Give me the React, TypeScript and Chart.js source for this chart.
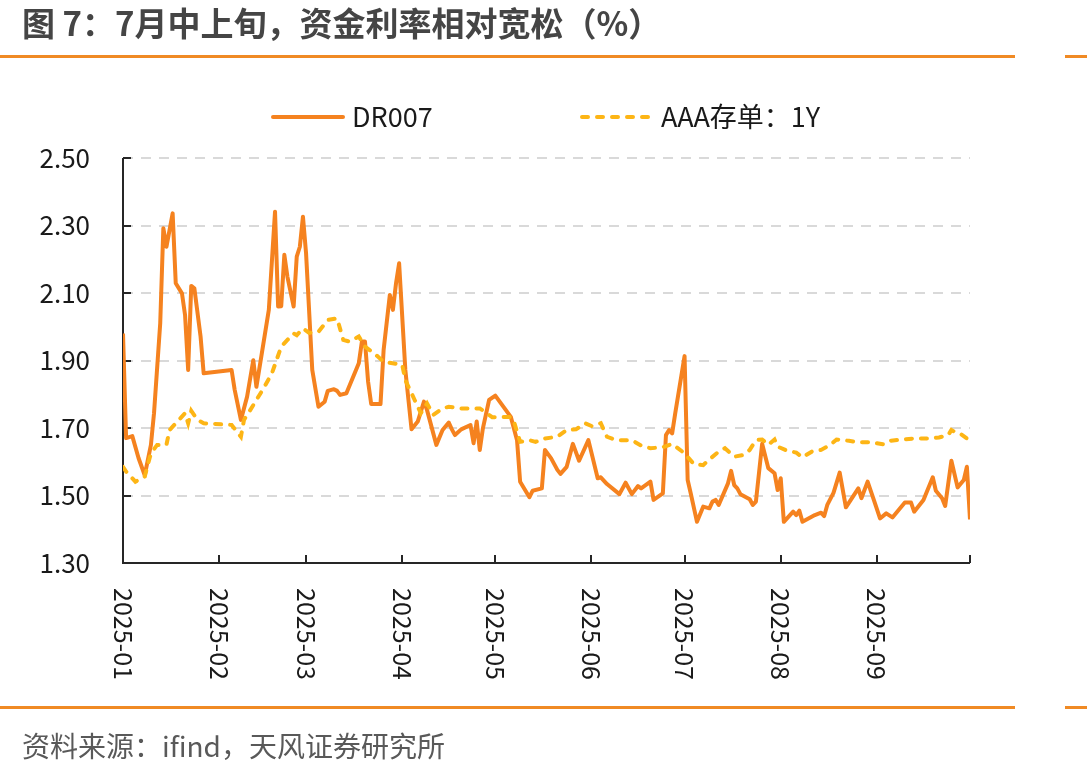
import React, { useEffect, useRef } from "react";
import { Chart, registerables } from "chart.js";

Chart.register(...registerables);

const TITLE = "图 7：7月中上旬，资金利率相对宽松（%）";
const SOURCE = "资料来源：ifind，天风证券研究所";
const SERIES_NAMES = ["DR007", "AAA存单：1Y"];

// x = days since 2025-01-01
const MONTH_LABELS = ["2025-01", "2025-02", "2025-03", "2025-04", "2025-05", "2025-06", "2025-07", "2025-08", "2025-09"];
const MONTH_START_DAYS = [0, 31, 59, 90, 120, 151, 181, 212, 243, 273];
const Y_TICKS = [1.3, 1.5, 1.7, 1.9, 2.1, 2.3, 2.5];

const drDays = [
  0, 1, 3, 5, 7, 9, 10, 12, 13, 14, 16, 17, 19, 20, 21, 22, 23, 25, 26, 35,
  36, 38, 40, 42, 43, 45, 47, 49, 50, 51, 52, 53, 55, 56, 57, 58, 59, 61, 63, 65,
  66, 68, 69, 70, 72, 76, 77, 78, 79, 80, 83, 84, 86, 87, 88, 89, 91, 93, 95, 97,
  98, 101, 103, 105, 106, 107, 109, 112, 113, 114, 115, 116, 118, 120, 125, 127, 128, 131, 132, 135,
  136, 138, 140, 141, 143, 145, 147, 150, 153, 154, 156, 160, 162, 164, 166, 167, 170, 171, 174, 175,
  176, 177, 178, 181, 182, 183, 185, 187, 189, 190, 191, 192, 195, 196, 197, 198, 199, 202, 203, 204,
  206, 208, 210, 211, 212, 213, 216, 217, 218, 219, 223, 225, 226, 227, 229, 231, 233, 237, 238, 240,
  242, 244, 246, 248, 250, 252, 254, 255, 258, 261, 262, 264, 265, 267, 269, 271, 272, 273,
];
const drValues = [
  1.98, 1.67, 1.676, 1.611, 1.56, 1.65, 1.744, 2.011, 2.292, 2.237, 2.336, 2.129, 2.099, 2.035, 1.872, 2.121, 2.114, 1.971, 1.862, 1.872,
  1.813, 1.724, 1.793, 1.901, 1.822, 1.936, 2.05, 2.341, 2.06, 2.061, 2.213, 2.148, 2.06, 2.208, 2.237, 2.326, 2.218, 1.872, 1.763, 1.778,
  1.81, 1.815, 1.81, 1.798, 1.803, 1.892, 1.956, 1.956, 1.837, 1.771, 1.771, 1.931, 2.094, 2.05, 2.129, 2.188, 1.872, 1.696, 1.719, 1.778,
  1.753, 1.65, 1.694, 1.716, 1.696, 1.679, 1.696, 1.709, 1.655, 1.719, 1.635, 1.699, 1.783, 1.796, 1.733, 1.664, 1.541, 1.495, 1.514, 1.521,
  1.635, 1.61, 1.576, 1.564, 1.585, 1.653, 1.603, 1.664, 1.551, 1.554, 1.534, 1.504, 1.538, 1.504, 1.528, 1.521, 1.541, 1.487, 1.506, 1.679,
  1.694, 1.684, 1.744, 1.913, 1.546, 1.506, 1.422, 1.467, 1.462, 1.482, 1.487, 1.472, 1.536, 1.573, 1.531, 1.521, 1.504, 1.489, 1.472, 1.482,
  1.653, 1.581, 1.566, 1.516, 1.551, 1.422, 1.452, 1.442, 1.455, 1.422, 1.442, 1.449, 1.439, 1.472, 1.508, 1.568, 1.465, 1.521, 1.492, 1.541,
  1.487, 1.432, 1.447, 1.435, 1.457, 1.479, 1.479, 1.452, 1.487, 1.554, 1.514, 1.492, 1.469, 1.603, 1.524, 1.546, 1.585, 1.429,
];

const aaaDays = [
  0, 1, 4, 7, 9, 11, 14, 15, 18, 20, 21, 22, 24, 26, 35, 38, 39, 41, 45, 48,
  51, 53, 55, 56, 58, 60, 63, 66, 69, 71, 73, 76, 78, 81, 84, 90, 91, 94, 96, 98,
  100, 103, 105, 109, 115, 119, 125, 126, 128, 131, 133, 136, 140, 143, 146, 149, 151, 154, 156, 159,
  164, 167, 170, 174, 177, 181, 184, 187, 189, 192, 194, 197, 200, 202, 204, 206, 208, 210, 211, 214,
  217, 219, 222, 225, 228, 230, 234, 237, 241, 245, 247, 251, 255, 260, 263, 266, 267, 269, 270, 273,
];
const aaaValues = [
  1.585, 1.571, 1.541, 1.556, 1.625, 1.65, 1.65, 1.694, 1.724, 1.744, 1.714, 1.751, 1.724, 1.714, 1.709, 1.674, 1.724, 1.753, 1.813, 1.862,
  1.941, 1.961, 1.98, 1.975, 1.995, 1.982, 1.985, 2.02, 2.025, 1.961, 1.956, 1.971, 1.941, 1.921, 1.896, 1.887, 1.842, 1.783, 1.744, 1.773,
  1.739, 1.758, 1.763, 1.758, 1.758, 1.732, 1.733, 1.719, 1.659, 1.664, 1.659, 1.669, 1.674, 1.694, 1.696, 1.714, 1.706, 1.714, 1.674, 1.664,
  1.664, 1.648, 1.64, 1.643, 1.653, 1.625, 1.593, 1.59, 1.607, 1.63, 1.64, 1.615, 1.62, 1.635, 1.664, 1.666, 1.65, 1.666, 1.645, 1.633,
  1.627, 1.613, 1.63, 1.635, 1.65, 1.666, 1.662, 1.658, 1.658, 1.652, 1.662, 1.666, 1.669, 1.669, 1.672, 1.679, 1.694, 1.684, 1.682, 1.662,
];

const DR_COLOR = "#F5821F";
const AAA_COLOR = "#FDB515";
const RULE_COLOR = "#F08A24";
const TEXT_FONT = '"Noto Sans CJK SC", "Noto Sans", sans-serif';

const chromePlugin = {
  id: "chrome",
  beforeDatasetsDraw(chart: any) {
    const { ctx, chartArea: a, scales } = chart;
    const xs = scales.x;
    const ys = scales.y;
    ctx.save();
    ctx.strokeStyle = "#262626";
    ctx.lineWidth = 2;
    ctx.beginPath();
    ctx.moveTo(a.left, a.top);
    ctx.lineTo(a.left, a.bottom);
    ctx.lineTo(a.right, a.bottom);
    ctx.stroke();
    ctx.beginPath();
    for (const v of Y_TICKS) {
      const y = Math.round(ys.getPixelForValue(v));
      ctx.moveTo(a.left, y);
      ctx.lineTo(a.left + 8, y);
    }
    for (const d of MONTH_START_DAYS) {
      const x = Math.round(xs.getPixelForValue(d));
      ctx.moveTo(x, a.bottom);
      ctx.lineTo(x, a.bottom - 8);
    }
    ctx.stroke();
    ctx.restore();
  },
  afterDraw(chart: any) {
    const { ctx, chartArea: a, scales } = chart;
    const xs = scales.x;
    ctx.save();
    // rotated month labels (reading top to bottom)
    ctx.font = `25px ${TEXT_FONT}`;
    ctx.fillStyle = "#1a1a1a";
    MONTH_LABELS.forEach((lab, i) => {
      const x = xs.getPixelForValue(MONTH_START_DAYS[i]);
      ctx.save();
      ctx.translate(x, a.bottom + 25);
      ctx.rotate(Math.PI / 2);
      ctx.textAlign = "left";
      ctx.textBaseline = "middle";
      ctx.fillText(lab, 0, 0);
      ctx.restore();
    });
    // legend
    const ly = 117;
    const items = [
      { x0: 273, x1: 343, tx: 352, ds: chart.data.datasets[0] },
      { x0: 582, x1: 655, tx: 661, ds: chart.data.datasets[1] },
    ];
    ctx.font = `27px ${TEXT_FONT}`;
    ctx.textAlign = "left";
    ctx.textBaseline = "middle";
    for (const it of items) {
      ctx.save();
      ctx.strokeStyle = it.ds.borderColor;
      ctx.lineWidth = it.ds.borderWidth;
      ctx.lineCap = "round";
      ctx.setLineDash(it.ds.borderDash || []);
      ctx.beginPath();
      ctx.moveTo(it.x0, ly);
      ctx.lineTo(it.x1, ly);
      ctx.stroke();
      ctx.restore();
      ctx.fillStyle = "#1a1a1a";
      ctx.fillText(it.ds.label, it.tx, ly);
    }
    ctx.restore();
  },
};

export default function App() {
  const ref = useRef<HTMLCanvasElement>(null);

  useEffect(() => {
    const canvas = ref.current;
    if (!canvas) return;
    const chart = new Chart(canvas, {
      type: "line",
      data: {
        datasets: [
          {
            label: SERIES_NAMES[0],
            data: drDays.map((d, i) => ({ x: d, y: drValues[i] })),
            borderColor: DR_COLOR,
            backgroundColor: DR_COLOR,
            borderWidth: 4,
            pointRadius: 0,
            tension: 0,
            borderJoinStyle: "round",
            order: 1,
          },
          {
            label: SERIES_NAMES[1],
            data: aaaDays.map((d, i) => ({ x: d, y: aaaValues[i] })),
            borderColor: AAA_COLOR,
            backgroundColor: AAA_COLOR,
            borderWidth: 4,
            borderDash: [6, 9],
            borderCapStyle: "round",
            pointRadius: 0,
            tension: 0,
            order: 0,
          },
        ],
      },
      options: {
        responsive: false,
        devicePixelRatio: 1,
        animation: false,
        layout: { padding: { left: 0, right: 117, top: 158, bottom: 210 } },
        plugins: { legend: { display: false }, tooltip: { enabled: false } },
        scales: {
          x: { type: "linear", min: 0, max: 273, display: false },
          y: {
            type: "linear",
            min: 1.3,
            max: 2.5,
            afterBuildTicks: (s: any) => {
              s.ticks = Y_TICKS.map((v) => ({ value: v }));
            },
            afterFit: (s: any) => {
              s.width = 123;
            },
            ticks: {
              callback: (v: any) => Number(v).toFixed(2),
              color: "#1a1a1a",
              font: { family: TEXT_FONT, size: 26 },
              padding: 33,
            },
            grid: { color: "#D9D9D9", lineWidth: 2, drawTicks: false },
            border: { display: false, dash: [10, 8] },
          },
        },
      },
      plugins: [chromePlugin],
    });
    return () => chart.destroy();
  }, []);

  return (
    <div style={{ position: "absolute", left: 0, top: 0, width: 1087, height: 773, background: "#fff", overflow: "hidden" }}>
      <canvas ref={ref} width={1087} height={773} style={{ position: "absolute", left: 0, top: 0, width: 1087, height: 773 }} />
      <div style={{ position: "absolute", left: 22, top: 1, lineHeight: "42px", fontSize: 33, fontWeight: 700, color: "#454545", fontFamily: TEXT_FONT, whiteSpace: "nowrap" }}>
        {TITLE}
      </div>
      <div style={{ position: "absolute", left: 0, top: 55, width: 1015, height: 3, background: RULE_COLOR }} />
      <div style={{ position: "absolute", left: 1065, top: 55, width: 22, height: 3, background: RULE_COLOR }} />
      <div style={{ position: "absolute", left: 0, top: 706, width: 1015, height: 3, background: RULE_COLOR }} />
      <div style={{ position: "absolute", left: 1065, top: 706, width: 22, height: 3, background: RULE_COLOR }} />
      <div style={{ position: "absolute", left: 22, top: 725, lineHeight: "40px", fontSize: 28, color: "#595959", fontFamily: TEXT_FONT, whiteSpace: "nowrap" }}>
        {SOURCE}
      </div>
    </div>
  );
}
